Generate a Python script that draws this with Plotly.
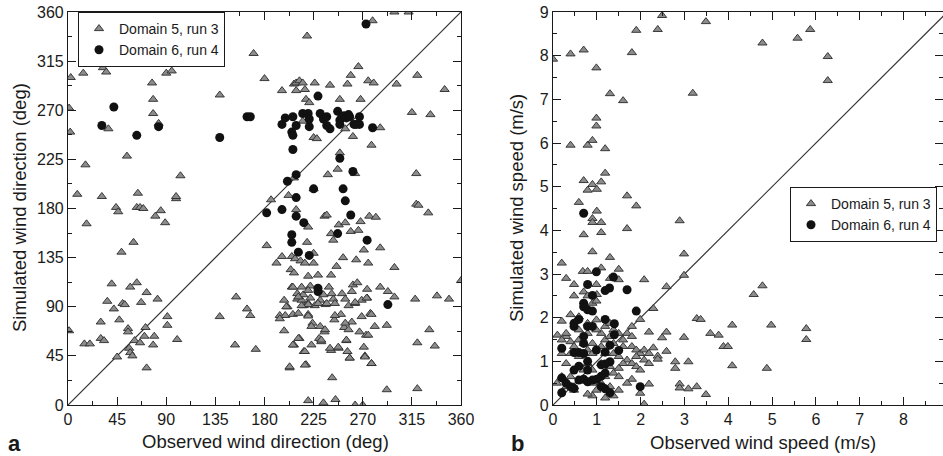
import plotly.graph_objects as go

# ---------------- Panel a: wind direction (deg) ----------------
dir_d5_obs = [1, 2, 2.5, 14, 16, 8.5, 17, 1, 15, 20, 31, 32, 35, 37, 30, 30, 33, 36, 40, 42, 44, 46, 45, 47,
              49, 50, 52, 54, 55, 55, 56, 57, 57, 60, 59, 61, 63, 64, 63, 66, 66, 67, 69, 70, 71, 72, 72, 77,
              78, 78, 78, 79, 80, 83, 82, 85, 89, 90, 91, 91, 95, 99, 99, 100, 103, 139, 139, 153, 154, 164,
              167, 170, 172, 180, 182, 186, 191, 194, 196, 196, 198, 199, 198, 201, 202, 203, 204, 205, 205,
              206, 207, 207, 207, 207, 208, 209, 209, 209, 210, 210, 211, 212, 212, 213, 214, 214, 215, 215,
              216, 216, 217, 217, 218, 218, 219, 219, 220, 220, 220, 220, 220, 221, 222, 222, 223, 224, 225,
              225, 226, 225, 225, 226, 228, 229, 230, 230, 231, 231, 232, 234, 235, 235, 236, 237, 238, 239,
              240, 241, 241, 241, 242, 243, 243, 244, 245, 246, 247, 248, 248, 249, 249, 250, 251, 252, 253,
              254, 254, 255, 256, 256, 257, 258, 259, 259, 260, 261, 261, 263, 263, 263, 264, 265, 266, 266,
              267, 268, 268, 269, 270, 271, 271, 272, 273, 274, 274, 275, 275, 276, 277, 278, 278, 279, 280,
              281, 282, 286, 286, 286, 292, 292, 293, 299, 299, 301, 299, 312, 315, 318, 319, 319, 320, 320,
              320, 321, 330, 331, 332, 336, 338, 345, 349, 360,
              206, 215.5, 211, 220, 234, 241.5, 237, 229, 220, 214, 200, 244.5, 254, 260, 263, 273.6, 194,
              220, 244.5, 254, 269, 278, 223, 235.4, 257, 275, 211, 232, 255, 206, 217, 240, 247.6, 258, 272,
              203, 217, 278]
dir_d5_sim = [272, 250, 300, 304, 220, 193, 166, 68, 56, 56, 191, 309, 305, 253, 76, 61, 59, 95, 111, 88, 181,
              177, 44, 78, 140, 93, 92, 228, 70, 67, 52, 48, 108, 149, 45, 59, 112, 194, 181, 181, 57, 94, 180,
              63, 71, 103, 34, 295, 280, 267, 55, 63, 173, 258, 97, 178, 167, 304, 81, 73, 306, 189, 191, 60,
              210, 284, 81, 55, 99, 88, 82, 322, 51, 299, 146, 188, 130, 82, 136, 288, 96, 82, 68, 90, 192, 34,
              124, 136, 108, 83, 294, 55, 208, 121, 134, 295, 288, 179, 97, 102, 84, 61, 297, 132, 108, 96,
              295, 260, 91, 49, 130, 289, 280, 37, 338, 149, 118, 93, 4, 83, 163, 277, 109, 98, 55, 75, 139,
              130, 295, 245, 198, 91, 244, 119, 105, 61, 96, 72, 58, 2, 173, 67, 92, 174, 211, 108, 293, 50,
              157, 119, 25, 97, 151, 78, 5, 127, 216, 52, 165, 231, 280, 83, 102, 135, 71, 253, 167, 59, 294,
              49, 91, 43, 302, 159, 76, 110, 246, 212, 93, 0, 133, 112, 310, 160, 67, 280, 168, 96, 0, 53, 142,
              45, 64, 106, 98, 297, 130, 173, 84, 38, 238, 352, 295, 72, 172, 254, 144, 108, 14, 73, 104, 360,
              126, 294, 99, 360, 268, 97, 212, 184, 15, 302, 57, 183, 176, 69, 266, 54, 100, 289, 97, 114,
              108, 101, 99, 105, 101, 102, 93, 93, 92, 91, 90, 93, 97, 104, 94, 98, 79, 81.5, 82, 75, 81, 83,
              72, 69, 69, 64, 61, 59.5, 59.5, 55, 49, 52, 53, 43, 44, 35, 36.6, 38]

dir_d6_obs = [273, 31, 42, 63, 83, 139, 164, 167, 182, 196, 196, 199, 201, 205, 205, 206, 205, 206, 206, 209,
              209, 209, 209, 211, 215, 216, 220, 221, 221, 221, 225, 229, 229, 229, 231, 234, 237, 237, 240,
              247, 247, 249, 249, 249, 251, 252, 253, 254, 255, 257, 258, 259, 261, 262, 264, 267, 267, 274,
              279, 293]
dir_d6_sim = [349, 256, 273, 247, 255, 245, 264, 264, 176, 179, 257, 263, 205, 156, 149, 264, 250, 247, 234,
              211, 190, 173, 256, 140, 267, 167, 267, 255, 262, 137, 198, 283, 107, 104, 267, 262, 264, 256,
              253, 157, 269, 261, 257, 226, 264, 198, 265, 187, 263, 266, 264, 174, 214, 257, 257, 257, 264,
              151, 254, 92]

dir_ticks = [0, 45, 90, 135, 180, 225, 270, 315, 360]

# ---------------- Panel b: wind speed (m/s) ----------------
spd_d5_obs = [0, 0.4, 0.7, 0.99, 1.3, 1.6, 1.8, 1.9, 2.39, 2.49, 3.49, 3.19, 4.78, 5.58, 5.87, 6.27, 6.27,
              0.99, 0.99, 0.4, 0.79, 0.9, 1.19, 1.19, 1.1, 0.7, 0.9, 0.79, 1.0, 0.59, 1.69, 1.9, 1.0, 0.9,
              0.9, 1.1, 0.7, 1.1, 1.69, 2.89, 0.9, 1.3, 2.99, 0.2, 0.3, 0.48, 0.68, 0.79, 1.1, 1.5, 1.3, 1.5,
              2.08, 2.99, 2.59, 0.48, 0.7, 0.79, 0.99, 1.0, 0.9, 0.99, 2.29, 4.58, 4.78, 0.2, 0.4, 0.59, 1.99,
              1.8, 3.28, 3.37, 4.09, 4.98, 5.78, 5.78, 3.59, 3.78, 2.99, 2.59, 2.19, 2.49, 3.89, 3.99, 2.29,
              2.59, 2.39, 2.39, 2.79, 3.09, 2.79, 4.09, 4.88, 2.89, 2.89, 3.09, 3.28, 3.49, 2.19, 1.99, 2.08,
              1.8, 1.69, 1.5, 1.38, 1.19, 0.9, 0.79, 0.09,
              0.1, 0.3, 0.4, 0.48, 0.59, 0.7, 0.4, 0.2, 0.2, 0.3, 0.59, 0.79, 0.9, 1.1, 1.19, 1.3, 1.5, 1.6,
              1.69, 1.8, 1.8, 1.9, 1.99, 2.08, 1.9, 1.69, 1.8, 1.9, 1.99, 2.08, 2.19, 2.19, 1.6, 1.5, 1.38,
              1.3, 1.5, 1.19, 1.1, 0.9, 0.7, 0.48, 0.4, 0.2, 0.3, 0.48, 0.99, 1.3, 0.7, 0.9, 1.1, 0.79, 0.59,
              0.9, 1.1, 0.99, 1.19, 0.79, 0.99, 1.3, 1.38, 0.59, 0.79, 0.3, 0.7, 1.19, 1.38, 1.5, 1.6, 1.38]
spd_d5_sim = [7.92, 8.04, 8.13, 7.72, 7.13, 6.97, 8.07, 8.58, 8.6, 8.92, 8.78, 7.14, 8.29, 8.4, 8.6, 7.98, 7.43,
              6.57, 6.39, 5.95, 5.95, 6.06, 5.87, 5.31, 5.11, 5.14, 5.05, 4.92, 4.94, 4.64, 4.79, 4.56, 4.44,
              4.27, 4.18, 4.18, 3.9, 3.95, 4.04, 4.22, 3.51, 3.38, 3.46, 3.25, 2.9, 2.76, 3.06, 3.06, 3.14,
              3.11, 2.9, 2.87, 2.87, 2.97, 2.71, 2.5, 2.59, 2.5, 2.76, 2.53, 2.33, 2.38, 2.21, 2.53, 2.73,
              1.92, 2.07, 2.02, 1.96, 1.8, 1.98, 1.96, 1.83, 1.83, 1.75, 1.5, 1.64, 1.6, 1.55, 1.67, 1.67,
              1.54, 1.34, 1.34, 1.31, 1.23, 1.12, 1.05, 0.99, 0.99, 0.84, 0.9, 0.84, 0.48, 0.39, 0.37, 0.42,
              0.24, 0.48, 0.27, 0.02, 0.59, 0.5, 0.34, 0.21, 0.16, 0.21, 0.25, 0.5,
              1.6, 1.57, 1.45, 1.34, 1.49, 1.41, 1.18, 1.18, 1.49, 0.95, 1.11, 1.26, 1.18, 1.34, 1.49, 1.57,
              1.64, 1.49, 1.64, 1.57, 1.34, 1.26, 1.18, 1.26, 1.11, 1.03, 0.95, 0.88, 0.8, 1.03, 1.18, 0.95,
              0.95, 0.84, 0.73, 0.88, 0.65, 0.65, 0.5, 0.5, 0.57, 0.42, 0.65, 0.65, 0.42, 0.34, 0.34, 0.42,
              0.8, 0.8, 0.95, 0.95, 0.88, 1.41, 1.64, 1.72, 1.8, 1.87, 1.95, 1.87, 1.72, 1.72, 1.64, 1.64,
              1.18, 1.18, 1.18, 1.11, 1.34, 1.41]

spd_d6_obs = [0.7, 0.99, 0.79, 1.38, 1.19, 1.29, 1.69, 1.9, 0.9, 0.7, 0.7, 0.79, 0.9, 0.59, 0.48, 0.48, 0.79,
              0.9, 1.19, 1.4, 1.4, 0.7, 0.7, 0.2, 1.3, 0.99, 1.19, 1.5, 0.48, 0.59, 0.7, 0.79, 0.59, 1.1,
              1.19, 1.3, 0.79, 0.7, 0.9, 1.1, 1.0, 1.19, 0.48, 0.2, 0.3, 0.4, 0.48, 0.2, 1.1, 1.19, 1.3, 1.99,
              0.79, 0.59]
spd_d6_sim = [4.39, 3.05, 2.76, 2.93, 2.62, 2.68, 2.64, 2.15, 2.51, 2.33, 2.25, 2.18, 2.15, 1.96, 1.87, 1.8,
              1.8, 1.8, 1.96, 1.86, 1.61, 1.57, 1.41, 1.3, 1.37, 1.26, 1.21, 1.25, 1.2, 1.2, 1.18, 1.0, 0.89,
              0.92, 0.94, 0.99, 0.8, 0.59, 0.57, 0.66, 0.59, 0.73, 0.8, 0.62, 0.5, 0.42, 0.38, 0.28, 0.42,
              0.37, 0.28, 0.42, 0.53, 0.57]

spd_ticks = [0, 1, 2, 3, 4, 5, 6, 7, 8, 9]

series_names = ["Domain 5, run 3", "Domain 6, run 4"]

FONT = "Liberation Sans, Arial, sans-serif"
INK = "#1a1a1a"
tri = dict(symbol="triangle-up", size=8, color="#8c8c8c", line=dict(color="#2a2a2a", width=0.9))
dot = dict(symbol="circle", size=9, color="#111111", line=dict(width=0))

fig = go.Figure()
# panel a
fig.add_trace(go.Scatter(x=[0, 360], y=[0, 360], mode="lines", line=dict(color="#333", width=1.2),
                         showlegend=False, hoverinfo="skip", xaxis="x", yaxis="y"))
fig.add_trace(go.Scatter(x=dir_d5_obs, y=dir_d5_sim, mode="markers", marker=tri, name=series_names[0],
                         xaxis="x", yaxis="y", legend="legend"))
fig.add_trace(go.Scatter(x=dir_d6_obs, y=dir_d6_sim, mode="markers", marker=dot, name=series_names[1],
                         xaxis="x", yaxis="y", legend="legend"))
# panel b
fig.add_trace(go.Scatter(x=[0, 9], y=[0, 9], mode="lines", line=dict(color="#333", width=1.2),
                         showlegend=False, hoverinfo="skip", xaxis="x2", yaxis="y2"))
fig.add_trace(go.Scatter(x=spd_d5_obs, y=spd_d5_sim, mode="markers", marker=tri, name=series_names[0],
                         xaxis="x2", yaxis="y2", legend="legend2"))
fig.add_trace(go.Scatter(x=spd_d6_obs, y=spd_d6_sim, mode="markers", marker=dot, name=series_names[1],
                         xaxis="x2", yaxis="y2", legend="legend2"))

W, H = 943, 456
ytop, ybot = 1 - 12 / H, 1 - 405 / H


def ax(domain, rng, ticks, minor_dtick, anchor):
    return dict(domain=domain, range=rng, anchor=anchor, tickvals=ticks, ticktext=[str(t) for t in ticks],
                automargin=False,
                ticks="inside", ticklen=8, tickwidth=1.2, tickcolor=INK, showline=True, linecolor=INK,
                linewidth=1.2, mirror="ticks", showgrid=False, zeroline=False,
                minor=dict(ticks="inside", ticklen=4, tickwidth=1, tickcolor=INK, dtick=minor_dtick,
                           tick0=0, showgrid=False),
                tickfont=dict(family=FONT, size=16, color=INK), fixedrange=True)


def label(text, x, y, size=18.5, angle=0, bold=False):
    return dict(text=f"<b>{text}</b>" if bold else text, x=x / W, y=1 - y / H, xref="paper", yref="paper",
                xanchor="center", yanchor="middle", showarrow=False, textangle=angle,
                font=dict(family=FONT, size=size, color=INK))


fig.update_layout(
    width=W, height=H, margin=dict(l=0, r=0, t=0, b=0, autoexpand=False),
    paper_bgcolor="white", plot_bgcolor="white",
    font=dict(family=FONT, color=INK),
    xaxis=ax([68 / W, 461 / W], [0, 360], dir_ticks, 22.5, "y"),
    yaxis=ax([ybot, ytop], [0, 360], dir_ticks, 22.5, "x"),
    xaxis2=ax([553 / W, 1.0], [0, 8.9], spd_ticks, 0.5, "y2"),
    yaxis2=ax([ybot, ytop], [0, 9], spd_ticks, 0.5, "x2"),
    legend=dict(x=78 / W, y=ytop, xanchor="left", yanchor="top", bgcolor="white", bordercolor=INK,
                borderwidth=1, font=dict(family=FONT, size=14, color=INK), tracegroupgap=0,
                itemwidth=30),
    legend2=dict(x=790 / W, y=1 - 187 / H, xanchor="left", yanchor="top", bgcolor="white",
                 bordercolor=INK, borderwidth=1, font=dict(family=FONT, size=14, color=INK),
                 tracegroupgap=0, itemwidth=30),
    showlegend=True,
    annotations=[
        label("Observed wind direction (deg)", 265, 441),
        label("Simulated wind direction (deg)", 19, 208, angle=-90),
        label("Observed wind speed (m/s)", 763, 442),
        label("Simulated wind speed (m/s)", 516, 208, angle=-90),
        label("a", 14, 443, size=22, bold=True),
        label("b", 517, 443, size=22, bold=True),
    ],
)

fig.write_html("out.html", config={"displayModeBar": False},
               post_script="document.body.style.margin='0';document.body.style.overflow='hidden';")
